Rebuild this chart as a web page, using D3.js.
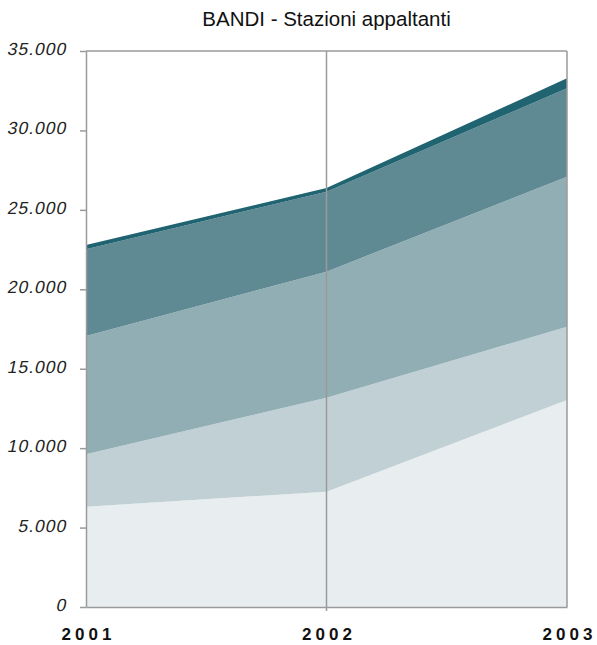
<!DOCTYPE html>
<html>
<head>
<meta charset="utf-8">
<script src="https://cdn.jsdelivr.net/npm/d3@7"></script>
<style>
  html, body { margin: 0; padding: 0; background: #fff; }
  #chart { width: 597px; height: 645px; }
</style>
</head>
<body>
<div id="chart"></div>
<script>
// Years on the x axis
const YEARS = [2001, 2002, 2003];

// Stacked series, bottom to top
const SERIES_KEYS = ["s1", "s2", "s3", "s4", "s5"];
const SERIES_COLORS = ["#e8eeef", "#c1d0d5", "#92aeb5", "#5f8993", "#1f6470"];
const S1 = [6310, 7260, 13030];
const S2 = [3300, 5920, 4610];
const S3 = [7450, 7930, 9450];
const S4 = [5460, 5030, 5560];
const S5 = [270, 240, 630];

const Y_TICKS = [0, 5000, 10000, 15000, 20000, 25000, 30000, 35000];

const TITLE = "BANDI - Stazioni appaltanti";

const rows = YEARS.map((yr, i) => ({
  year: yr, s1: S1[i], s2: S2[i], s3: S3[i], s4: S4[i], s5: S5[i]
}));

const width = 597, height = 645;
const m = { top: 51, right: 30, bottom: 38, left: 86 };

const svg = d3.select("#chart").append("svg")
  .attr("width", width)
  .attr("height", height);

const x = d3.scaleLinear()
  .domain([2001, 2003])
  .range([m.left, width - m.right]);

const y = d3.scaleLinear()
  .domain([0, 35000])
  .range([height - m.bottom, m.top]);

const stack = d3.stack().keys(SERIES_KEYS);
const layers = stack(rows);

const area = d3.area()
  .x(d => x(d.data.year))
  .y0(d => y(d[0]))
  .y1(d => y(d[1]));

svg.append("g")
  .selectAll("path")
  .data(layers)
  .enter()
  .append("path")
  .attr("fill", (d, i) => SERIES_COLORS[i])
  .attr("d", area);

const frame = "#9a9a9a";

// vertical grid line at 2002
svg.append("line")
  .attr("x1", x(2002)).attr("x2", x(2002))
  .attr("y1", m.top).attr("y2", height - m.bottom + 4)
  .attr("stroke", frame)
  .attr("stroke-width", 1.5);

// top and right border
svg.append("line")
  .attr("x1", m.left).attr("x2", width - m.right)
  .attr("y1", m.top).attr("y2", m.top)
  .attr("stroke", frame).attr("stroke-width", 1.5);

svg.append("line")
  .attr("x1", width - m.right).attr("x2", width - m.right)
  .attr("y1", m.top).attr("y2", height - m.bottom)
  .attr("stroke", frame).attr("stroke-width", 1.5);

// ----- Y axis -----
const yAxis = svg.append("g")
  .attr("transform", `translate(${m.left},0)`)
  .call(
    d3.axisLeft(y)
      .tickValues(Y_TICKS)
      .tickFormat(d => d3.format(",")(d).replace(/,/g, "."))
      .tickSize(6)
      .tickSizeOuter(0)
      .tickPadding(10)
  );

yAxis.select(".domain").attr("stroke", frame).attr("stroke-width", 1.5);
yAxis.selectAll(".tick line").attr("stroke", frame).attr("stroke-width", 1.5);
// italic look: slant the labels (no italic face is guaranteed)
yAxis.selectAll("text")
  .style("font-family", "'Liberation Sans', Arial, sans-serif")
  .style("font-size", "17.5px")
  .style("letter-spacing", "1px")
  .attr("fill", "#222")
  .attr("dy", "0.2em")
  .attr("transform", "translate(-3,0) skewX(-12)");

// ----- X axis -----
const xAxis = svg.append("g")
  .attr("transform", `translate(0,${height - m.bottom})`)
  .call(
    d3.axisBottom(x)
      .tickValues(YEARS)
      .tickFormat(d3.format("d"))
      .tickSize(0)
      .tickPadding(21)
  );

xAxis.select(".domain").attr("stroke", frame).attr("stroke-width", 1.5);
xAxis.selectAll("text")
  .style("font-family", "'Liberation Sans', Arial, sans-serif")
  .style("font-weight", "bold")
  .style("font-size", "17px")
  .style("letter-spacing", "4px")
  .attr("dx", "2px")
  .attr("fill", "#111");

// Title
svg.append("text")
  .attr("x", (m.left + width - m.right) / 2)
  .attr("y", 26)
  .attr("text-anchor", "middle")
  .style("font-family", "'Liberation Sans', Arial, sans-serif")
  .style("font-size", "20.5px")
  .attr("fill", "#111")
  .text(TITLE);
</script>
</body>
</html>
